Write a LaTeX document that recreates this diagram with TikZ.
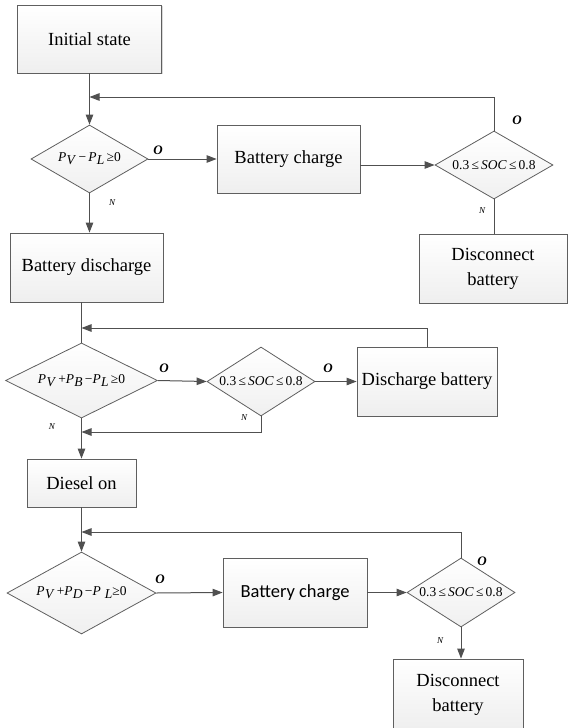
\documentclass[tikz,border=0pt]{standalone}
\usepackage{fontspec}
\setmainfont{Liberation Serif}
\newfontfamily\serfont{Liberation Serif}
\newfontfamily\calfont{Carlito}
\usetikzlibrary{shapes.geometric,arrows.meta,shadows}
\definecolor{ln}{RGB}{80,80,80}
\definecolor{bx}{RGB}{95,95,95}
\newcommand\PS[1]{\textit{P}\kern0.3pt\raisebox{-0.5ex}{\textit{#1}}}
\begin{document}
\begin{tikzpicture}[x=1pt,y=-1pt,
 box/.style={draw=bx, line width=0.8pt, top color=white, bottom color=gray!13,
   drop shadow={shadow xshift=1.3pt, shadow yshift=-1.3pt, opacity=0.3},
   font=\serfont\fontsize{18.5}{25}\selectfont, align=center, inner sep=0pt},
 dia/.style={diamond, draw=bx, line width=0.8pt, top color=white, bottom color=gray!12,
   inner sep=0pt, font=\serfont\fontsize{13.5}{15}\selectfont},
 conn/.style={draw=ln, line width=1pt},
 arr/.style={conn, -{Triangle[length=10pt,width=7.5pt]}},
 lblO/.style={font=\serfont\fontsize{13}{13}\selectfont\bfseries\itshape, inner sep=0pt},
 lblN/.style={font=\serfont\fontsize{9}{9}\selectfont\itshape, inner sep=0pt}
]
\useasboundingbox (0,0) rectangle (569,728);

% top block
\node[box, minimum width=144pt, minimum height=68pt] (init) at (89.5,39) {Initial state};
\node[dia, minimum width=117pt, minimum height=68pt] (d1) at (89.5,159) {\makebox[0pt]{\PS{V}\,−\,\PS{L}\,≥0}};
\node[box, minimum width=143pt, minimum height=68pt] (bc1) at (288.5,159) {Battery charge};
\node[dia, minimum width=118pt, minimum height=68pt] (d2) at (494,165) {\makebox[0pt]{0.3\,≤\,\textit{SOC}\,≤\,0.8}};
\node[box, minimum width=148pt, minimum height=69pt] (db1) at (493,268.5) {Disconnect\\battery};
\node[box, minimum width=153pt, minimum height=69pt] (bd) at (86.5,267.5) {Battery discharge};

% middle block
\node[dia, minimum width=152pt, minimum height=75pt] (d3) at (81.5,380.5) {\makebox[0pt]{\PS{V}\,+\PS{B}\,−\PS{L}\,≥0}};
\node[dia, minimum width=108pt, minimum height=69pt] (d4) at (261,381.5) {\makebox[0pt]{0.3\,≤\,\textit{SOC}\,≤\,0.8}};
\node[box, minimum width=140pt, minimum height=69pt] (dis) at (427,381.5) {Discharge battery};
\node[box, minimum width=109pt, minimum height=48pt] (diesel) at (81.5,483) {Diesel on};

% bottom block
\node[dia, minimum width=149pt, minimum height=82pt] (d5) at (81.5,593) {\makebox[0pt]{\PS{V}\,+\PS{D}\,−\textit{P}\hspace{4pt}\raisebox{-0.5ex}{\textit{L}}≥0}};
\node[box, minimum width=144pt, minimum height=69pt, font=\calfont\fontsize{18.5}{22}\selectfont] (bc2) at (295,592.5) {Battery charge};
\node[dia, minimum width=108pt, minimum height=69pt] (d6) at (461,592.5) {\makebox[0pt]{0.3\,≤\,\textit{SOC}\,≤\,0.8}};
\node[box, minimum width=130pt, minimum height=71pt] (db2) at (458,694.5) {Disconnect\\battery};

% coordinates for feedback joins
\coordinate (f1) at (89.5,97);
\coordinate (f2) at (81.5,328);
\coordinate (f3) at (81.5,432);
\coordinate (f4) at (81.5,532);

% top connectors
\draw[arr] (init.south) -- (d1.north);
\draw[arr] (d2.north) |- (f1);
\draw[arr] (d1.east) -- (bc1.west);
\draw[arr] (bc1.east |- d2.west) -- (d2.west);
\draw[conn] (d2.south) -- (d2.south |- db1.north);
\draw[arr] (d1.south) -- (d1.south |- bd.north);

% middle connectors
\draw[conn] (bd.south -| d3.north) -- (d3.north);
\draw[arr] (dis.north) |- (f2);
\draw[arr] (d3.east) -- (d4.west);
\draw[arr] (d4.east) -- (dis.west);
\draw[arr] (d4.south) |- (f3);
\draw[arr] (d3.south) -- (d3.south |- diesel.north);

% bottom connectors
\draw[arr] (diesel.south -| d5.north) -- (d5.north);
\draw[arr] (d6.north) |- (f4);
\draw[arr] (d5.east) -- (bc2.west);
\draw[arr] (bc2.east) -- (d6.west);
\draw[arr] (d6.south) -- (d6.south |- db2.north);

% branch labels
\node[lblO] (o1) at (158,150) {O};
\node[lblN] (n1) at (112,203) {N};
\node[lblO] (o2) at (517,120) {O};
\node[lblN] (n2) at (482,211) {N};
\node[lblO] (o3) at (164,368) {O};
\node[lblN] (n3) at (52,427) {N};
\node[lblO] (o4) at (328,368) {O};
\node[lblN] (n4) at (244,418) {N};
\node[lblO] (o5) at (160,579) {O};
\node[lblO] (o6) at (482,561) {O};
\node[lblN] (n6) at (440,641) {N};
\end{tikzpicture}
\end{document}
